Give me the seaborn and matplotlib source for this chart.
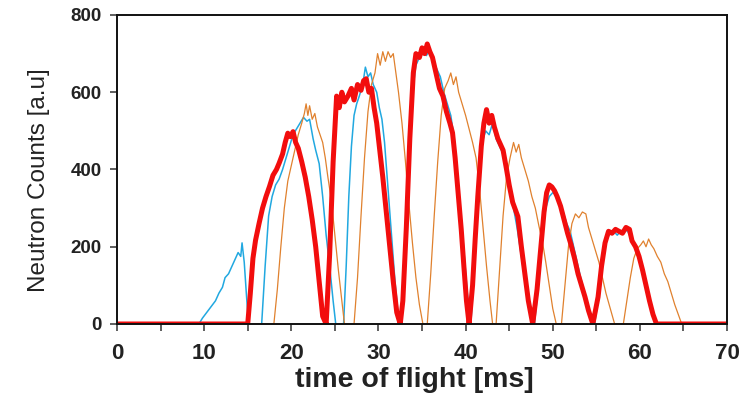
import numpy as np
import pandas as pd
import matplotlib
matplotlib.use('Agg')
import matplotlib.pyplot as plt
import seaborn as sns

# Données (temps de vol en ms, comptage neutrons en u.a.)
red_t = [0, 15.0, 15.3, 15.6, 15.9, 16.3, 16.7, 17.1, 17.5, 17.9, 18.3, 18.6, 19.0, 19.3, 19.6, 19.9, 20.2,
         20.5, 20.8, 21.2, 21.6, 22.0, 22.4, 22.8, 23.2, 23.6, 24.0, 24.4, 24.8, 25.2, 25.5, 25.8, 26.1,
         26.5, 26.9, 27.2, 27.6, 28.0, 28.3, 28.6, 28.9, 29.2, 29.5, 29.8, 30.1, 30.5, 30.9, 31.3, 31.7,
         32.1, 32.5, 32.8, 33.2, 33.6, 34.0, 34.3, 34.7, 35.0, 35.3, 35.6, 35.9, 36.2, 36.6, 37.0, 37.4,
         37.8, 38.2, 38.5, 38.8, 39.1, 39.5, 39.8, 40.1, 40.4, 40.8, 41.1, 41.4, 41.8, 42.1, 42.4, 42.7,
         43.0, 43.3, 43.7, 44.0, 44.3, 44.7, 45.0, 45.4, 46.0, 46.4, 46.8, 47.2, 47.7, 48.2, 48.6, 49.0,
         49.3, 49.6, 49.9, 50.2, 50.5, 50.9, 51.3, 51.7, 52.1, 52.5, 52.9, 53.3, 53.7, 54.1, 54.6, 55.2,
         55.6, 56.0, 56.4, 56.8, 57.2, 57.6, 58.0, 58.4, 58.8, 59.1, 59.5, 59.9, 60.3, 60.7, 61.1, 61.5,
         61.9, 70]
red_c = [0, 0, 80, 170, 217, 260, 300, 330, 356, 385, 400, 416, 440, 470, 494, 485, 498,
         470, 455, 420, 380, 330, 270, 200, 110, 20, 0, 180, 420, 590, 560, 600, 575,
         590, 610, 580, 620, 605, 630, 635, 600, 610, 560, 520, 460, 380, 290, 200, 110,
         30, 0, 60, 250, 480, 650, 700, 690, 715, 700, 725, 705, 690, 650, 610, 590,
         550, 520, 495, 430, 350, 245, 150, 60, 0, 100, 220, 330, 460, 520, 555, 520,
         540, 510, 480, 465, 450, 400, 360, 315, 278, 200, 130, 60, 0, 90, 190, 290,
         340, 360, 355, 345, 330, 305, 270, 235, 205, 170, 130, 100, 70, 35, 0, 70,
         150, 210, 240, 235, 245, 240, 235, 250, 245, 215, 200, 175, 140, 100, 60, 25,
         0, 0]

blue_t = [0, 9.4, 9.8, 10.3, 10.8, 11.3, 11.7, 12.1, 12.4, 12.8, 13.2, 13.6, 13.9, 14.2, 14.35, 14.6,
          14.9, 15.1, 16.6, 17.0, 17.4, 17.8, 18.2, 18.6, 19.0, 19.4, 19.8, 20.2, 20.6, 21.0, 21.4,
          21.8, 22.1, 22.5, 22.8, 23.2, 23.6, 24.0, 24.4, 24.8, 25.1, 26.0, 26.3, 26.6, 26.9, 27.2,
          27.5, 27.8, 28.2, 28.5, 28.8, 29.1, 29.4, 29.8, 30.1, 30.4, 30.7, 31.0, 31.3, 31.6, 31.9,
          32.2, 32.6, 33.1, 33.5, 33.9, 34.3, 34.7, 35.1, 35.5, 35.9, 36.3, 36.7, 37.1, 37.5, 37.9,
          38.3, 38.7, 39.0, 39.4, 39.8, 40.2, 40.6, 41.1, 41.5, 41.9, 42.3, 42.7, 43.1, 43.5, 43.9,
          44.3, 44.7, 45.1, 45.5, 45.9, 46.3, 46.7, 47.1, 47.5, 47.9, 48.4, 48.8, 49.2, 49.6, 50.0,
          50.4, 50.8, 51.2, 51.6, 52.0, 52.4, 52.8, 53.2, 53.6, 54.0, 54.4, 54.8, 55.4, 55.8, 56.2,
          56.6, 57.0, 57.4, 57.8, 58.2, 58.6, 59.0, 59.4, 59.8, 60.2, 60.6, 61.0, 61.4, 61.8, 70]
blue_c = [0, 0, 15, 30, 45, 60, 80, 95, 120, 130, 150, 170, 185, 175, 210, 160,
          60, 0, 0, 150, 280, 330, 360, 375, 400, 430, 460, 490, 505, 520, 535,
          525, 530, 480, 450, 415, 330, 230, 150, 60, 0, 0, 150, 330, 460, 540,
          570, 590, 620, 665, 640, 650, 620, 600, 560, 530, 470, 380, 290, 200, 110,
          40, 0, 200, 430, 600, 670, 690, 700, 695, 710, 680, 660, 640, 600, 570,
          540, 480, 400, 300, 190, 80, 0, 180, 340, 470, 500, 490, 520, 480, 460,
          440, 400, 350, 300, 250, 190, 130, 70, 20, 0, 110, 230, 300, 330, 340,
          335, 310, 290, 260, 240, 200, 160, 120, 85, 50, 20, 0, 90, 170, 220,
          235, 240, 230, 240, 245, 240, 220, 200, 180, 145, 105, 70, 30, 0, 0]

orange_t = [0, 18.0, 18.4, 18.8, 19.2, 19.6, 20.0, 20.4, 20.8, 21.2, 21.5, 21.7, 21.9, 22.1, 22.4, 22.7,
            23.0, 23.3, 23.6, 23.9, 24.2, 24.6, 25.0, 25.4, 25.8, 26.1, 27.2, 27.6, 28.0, 28.4, 28.8,
            29.2, 29.6, 29.9, 30.2, 30.5, 30.8, 31.1, 31.4, 31.7, 32.0, 32.3, 32.7, 33.1, 33.5, 33.9,
            34.3, 34.7, 35.1, 35.6, 36.0, 36.4, 36.8, 37.2, 37.6, 38.0, 38.3, 38.6, 38.9, 39.2, 39.6,
            40.0, 40.4, 40.8, 41.2, 41.6, 42.0, 42.4, 42.8, 43.1, 43.5, 43.9, 44.3, 44.7, 45.1, 45.5,
            45.8, 46.1, 46.4, 46.8, 47.2, 47.6, 48.0, 48.4, 48.8, 49.2, 49.6, 50.0, 50.4, 51.0, 51.4,
            51.8, 52.2, 52.6, 53.0, 53.4, 53.8, 54.1, 54.5, 54.9, 55.3, 55.7, 56.1, 56.6, 57.1, 58.1,
            58.5, 58.9, 59.3, 59.7, 60.1, 60.4, 60.7, 61.0, 61.3, 61.6, 62.0, 62.4, 62.8, 63.2, 63.6,
            64.0, 64.4, 64.8, 70]
orange_c = [0, 0, 90, 200, 300, 370, 410, 450, 490, 520, 545, 570, 540, 565, 530, 545,
            510, 490, 470, 430, 380, 320, 230, 140, 60, 0, 0, 120, 280, 430, 550,
            620, 650, 700, 670, 705, 680, 705, 690, 700, 650, 600, 520, 420, 310, 210,
            120, 50, 0, 0, 130, 280, 420, 540, 610, 630, 650, 620, 640, 600, 570,
            540, 505, 470, 430, 350, 250, 150, 60, 0, 0, 140, 280, 380, 430, 470,
            445, 465, 430, 400, 370, 330, 300, 255, 215, 160, 100, 40, 0, 0, 100,
            200, 260, 285, 275, 290, 285, 250, 220, 190, 160, 120, 80, 40, 0, 0,
            60, 120, 170, 195, 205, 215, 200, 220, 205, 195, 175, 160, 130, 110, 80,
            50, 25, 0, 0]

x_ticks = [0, 10, 20, 30, 40, 50, 60, 70]
y_ticks = [0, 200, 400, 600, 800]

sns.set_style('ticks')
plt.rcParams['font.family'] = ['Liberation Sans', 'DejaVu Sans']

fig = plt.figure(figsize=(7.48, 4.12), dpi=100)
ax = fig.add_axes([0.1564, 0.2136, 0.8156, 0.75])

df_blue = pd.DataFrame({'t': blue_t, 'c': blue_c})
df_orange = pd.DataFrame({'t': orange_t, 'c': orange_c})
df_red = pd.DataFrame({'t': red_t, 'c': red_c})

sns.lineplot(data=df_blue, x='t', y='c', estimator=None, color='#21A8E0', lw=1.1, ax=ax)
sns.lineplot(data=df_orange, x='t', y='c', estimator=None, color='#E0812E', lw=0.9, ax=ax)
sns.lineplot(data=df_red, x='t', y='c', estimator=None, color='#F20D0D', lw=3.6, ax=ax)

ax.set_xlim(0, 70)
ax.set_ylim(0, 800)
ax.set_xticks(x_ticks)
ax.set_xticks(np.arange(0, 71, 5), minor=True)
ax.set_yticks(y_ticks)
ax.tick_params(axis='x', which='both', direction='out', length=5, width=1.1, color='#333333', pad=9)
ax.tick_params(axis='y', direction='out', length=5, width=1.1, color='#333333', pad=6)
for lab in ax.get_xticklabels():
    lab.set_fontsize(16)
    lab.set_fontweight('bold')
    lab.set_color('#222222')
for lab in ax.get_yticklabels():
    lab.set_fontsize(13.5)
    lab.set_fontweight('bold')
    lab.set_color('#222222')

for side in ['left', 'right', 'top', 'bottom']:
    ax.spines[side].set_visible(True)
    ax.spines[side].set_linewidth(1.4)
    ax.spines[side].set_color('#111111')

ax.set_xlabel('time of flight [ms]', fontsize=20.5, fontweight='bold', color='#222222')
ax.set_ylabel('Neutron Counts [a.u]', fontsize=17.5, color='#222222')
ax.xaxis.set_label_coords(0.487, -0.138)
ax.yaxis.set_label_coords(-0.11, 0.466)

fig.savefig('out.png', dpi=100)
